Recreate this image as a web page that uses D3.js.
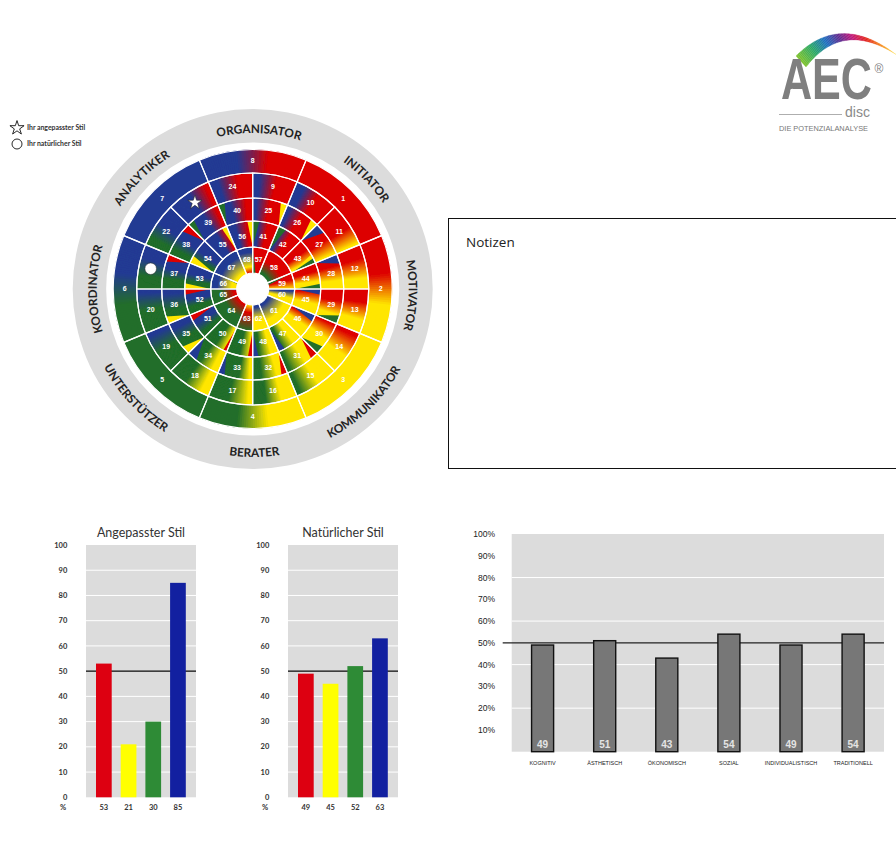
<!DOCTYPE html>
<html>
<head>
<meta charset="utf-8">
<script src="https://cdn.jsdelivr.net/npm/d3@7"></script>
<style>
  body { margin: 0; background: #fff; }
  svg { display: block; }
  text { font-family: Lato, sans-serif; }
</style>
</head>
<body>
<div id="chart"></div>
<script>
// Bar charts
const styleColors = ["#dd0011", "#ffff00", "#2e8b36", "#1220a0"];
const adaptedTitle = "Angepasster Stil";
const adaptedValues = [53, 21, 30, 85];
const naturalTitle = "Natürlicher Stil";
const naturalValues = [49, 45, 52, 63];
const styleTicks = [0, 10, 20, 30, 40, 50, 60, 70, 80, 90, 100];

const motiveNames = ["KOGNITIV", "ÄSTHETISCH", "ÖKONOMISCH", "SOZIAL", "INDIVIDUALISTISCH", "TRADITIONELL"];
const motiveValues = [49, 51, 43, 54, 49, 54];
const motiveTicks = [10, 20, 30, 40, 50, 60, 70, 80, 90, 100];
const motiveGrid = [20, 40, 60, 80];

// Wheel
const roleNames = ["ORGANISATOR", "INITIATOR", "MOTIVATOR", "KOMMUNIKATOR", "BERATER", "UNTERSTÜTZER", "KOORDINATOR", "ANALYTIKER"];
const palette = { R: "#dd0000", Y: "#ffe600", G: "#216e2a", B: "#233a93" };

// ids of each ring in clockwise order, spans in sixteenths of the circle
const ringIds = [
  [8, 1, 2, 3, 4, 5, 6, 7],
  d3.range(9, 25),
  d3.range(25, 41),
  d3.range(41, 57),
  d3.range(57, 69),
];
const ringSpans = [
  [2, 2, 2, 2, 2, 2, 2, 2],
  d3.range(16).map(() => 1),
  d3.range(16).map(() => 1),
  d3.range(16).map(() => 1),
  [1, 2, 1, 1, 2, 1, 1, 2, 1, 1, 2, 1],
];
const ringStart = [-1, 0, 0, 0, 0];

// colour, share of the segment (clockwise), colour, share ...
const sweepFills = [
  [1, "R"], [2, "R", .35, "Y", .65], [3, "Y"], [4, "Y", .35, "G", .65],
  [5, "G"], [6, "G", .35, "B", .65], [7, "B"], [8, "B", .35, "R", .65],
  [9, "B", .15, "R", .55], [10, "B", .2, "R", .55], [11, "R", .55, "Y", .95], [12, "R", .3, "Y", .75],
  [13, "R", .3, "Y", .7], [14, "R", .1, "Y", .6], [15, "Y", .45, "G", .9], [16, "Y", .35, "G", .7],
  [17, "Y", .1, "G", .55], [18, "Y", .2, "G", .6], [19, "G", .5, "B", .9], [20, "G", .5, "B", .9],
  [21, "G", .3, "B", .7], [22, "G", .2, "B", .55], [23, "B", .5, "R", .9], [24, "B", .2, "R", .65],
  [25, "B", .1, "R", .5], [26, "B", .1, "R", .5], [27, "R", .5, "Y", .95], [28, "R", .3, "Y", .75],
  [29, "R", .35, "Y", .75], [30, "R", .05, "Y", .5], [31, "Y", .4, "G", .9], [32, "Y", .3, "G", .75],
  [33, "Y", .1, "G", .4], [34, "Y", .2, "G", .6], [35, "G", .4, "B", .8], [36, "G", .35, "B", .85],
  [37, "G", .3, "B", .6], [38, "G", .2, "B", .55], [39, "B", .5, "R", .9], [40, "B", .35, "R", .8],
  [41, "B", .2, "R", .6], [42, "B", .15, "R", .55], [43, "R", .4, "Y", .85], [44, "R", .3, "Y", .7],
  [45, "R", .1, "Y", .6], [46, "R", .1, "Y", .55], [47, "Y", .35, "G", .8], [48, "Y", .3, "G", .75],
  [49, "Y", .1, "G", .5], [50, "Y", .1, "G", .5], [51, "G", .2, "B", .6], [52, "G", .3, "B", .6],
  [53, "G", .3, "B", .6], [54, "G", .2, "B", .55], [55, "B", .5, "R", .9], [56, "B", .3, "R", .8],
  [57, "R"], [59, "R", .4, "Y", 1], [60, "B", .15, "Y", .6],
];

// inner ring: colour, share of the ring width (centre to edge), colour ...
const radialFills = [
  [58, "G", .1, "R", .55], [61, "B", .1, "Y", .7], [62, "B", .1, "Y", .55], [63, "Y", 0, "R", .3, "G", 1],
  [64, "R", .05, "G", .55], [65, "R", .1, "G", .6], [66, "Y", .2, "B", .75], [67, "Y", .1, "B", .7],
  [68, "R", 0, "Y", .25, "B", .8],
];

// segment, side it leans on, colour, share of the segment at its widest
const wedges = [
  [25, "end", "Y", .2], [26, "end", "Y", .22], [27, "start", "B", .3], [28, "start", "B", .28],
  [29, "end", "G", .25], [30, "end", "G", .25], [31, "start", "R", .22], [32, "start", "R", .18],
  [33, "end", "B", .2], [34, "end", "B", .3], [35, "start", "Y", .25], [36, "start", "Y", .22],
  [37, "end", "R", .22], [38, "end", "R", .25], [39, "start", "G", .2], [40, "start", "G", .2],
  [41, "start", "G", .25], [42, "start", "G", .3], [43, "end", "Y", .35], [43, "end", "G", .2],
  [44, "end", "G", .2], [45, "start", "B", .22], [46, "start", "B", .28], [47, "end", "B", .25],
  [48, "end", "B", .22], [49, "start", "R", .18], [50, "start", "R", .14], [51, "end", "R", .25],
  [52, "end", "R", .22], [53, "start", "Y", .22], [54, "start", "Y", .3], [55, "end", "Y", .2],
  [56, "end", "Y", .2],
];

// thin at the outer edge instead of the inner one
const innerWedges = [
  [57, "start", "G", .45], [59, "start", "G", .4], [65, "end", "B", .2], [66, "end", "G", .2],
];

const starSegment = 23;
const circleSegment = 21;

const logoColors = ["#7dc22e", "#2aa866", "#1b6fc0", "#5a2d91", "#c0187a", "#e3241b", "#f58a1f", "#fde64b"];

const width = 896;
const height = 857;

const svg = d3.select("#chart")
  .append("svg")
  .attr("width", width)
  .attr("height", height);

const defs = svg.append("defs");
defs.append("filter")
  .attr("id", "soft")
  .append("feGaussianBlur")
  .attr("stdDeviation", .5);

// ---- wheel ----
const wheel = svg.append("g").attr("transform", "translate(252.7,289)");

const ringInner = [116, 91, 68, 42, 16];
const ringOuter = [139.5, 116, 91, 68, 42];
const labelRadius = [128, 104, 80, 54, 30];
const angle = d3.scaleLinear().domain([0, 16]).range([0, 2 * Math.PI]);
const arc = d3.arc();

const segments = [];
ringIds.forEach((ids, ring) => {
  let pos = ringStart[ring];
  ids.forEach((id, i) => {
    const span = ringSpans[ring][i];
    segments.push({
      id, ring,
      innerRadius: ringInner[ring],
      outerRadius: ringOuter[ring],
      startAngle: angle(pos),
      endAngle: angle(pos + span),
      midAngle: angle(pos + span / 2),
      labelRadius: labelRadius[ring],
    });
    pos += span;
  });
});
const segmentById = new Map(segments.map(d => [d.id, d]));

// gray band with the role names
wheel.append("path")
  .attr("d", arc({ innerRadius: 146.5, outerRadius: 180, startAngle: 0, endAngle: 2 * Math.PI }))
  .attr("fill", "#dcdcdc");

function stopScale(fill) {
  const rest = fill.slice(1);
  const cols = rest.filter((d, i) => i % 2 === 0).map(c => palette[c]);
  const pos = rest.filter((d, i) => i % 2 === 1);
  return d3.scaleLinear().domain(pos).range(cols).clamp(true);
}

// sweep gradients are stacks of thin arcs so the colour follows the angle,
// each one runs a bit under the next to hide the seams
const sliceCount = 48;
const colorLayer = wheel.append("g").attr("filter", "url(#soft)");
sweepFills.forEach(fill => {
  const seg = segmentById.get(fill[0]);
  if (fill.length === 2) {
    colorLayer.append("path").attr("d", arc(seg)).attr("fill", palette[fill[1]]);
    return;
  }
  const color = stopScale(fill);
  const sliceAngle = d3.scaleLinear().domain([0, sliceCount]).range([seg.startAngle, seg.endAngle]);
  colorLayer.append("g")
    .selectAll("path")
    .data(d3.range(sliceCount))
    .enter()
    .append("path")
    .attr("d", i => arc({
      innerRadius: seg.innerRadius,
      outerRadius: seg.outerRadius,
      startAngle: sliceAngle(i),
      endAngle: sliceAngle(Math.min(i + 3, sliceCount)),
    }))
    .attr("fill", i => color((i + .5) / sliceCount));
});

// radial gradients for the ring around the hole
radialFills.forEach(fill => {
  const seg = segmentById.get(fill[0]);
  const grad = defs.append("radialGradient")
    .attr("id", "radial-" + seg.id)
    .attr("gradientUnits", "userSpaceOnUse")
    .attr("cx", 0).attr("cy", 0).attr("r", seg.outerRadius);
  const share = d3.scaleLinear().domain([0, 1]).range([seg.innerRadius / seg.outerRadius, 1]);
  for (let i = 1; i < fill.length; i += 2) {
    grad.append("stop")
      .attr("offset", share(fill[i + 1]))
      .attr("stop-color", palette[fill[i]]);
  }
  colorLayer.append("path")
    .attr("d", arc(seg))
    .attr("fill", `url(#radial-${seg.id})`);
});

// triangular accents next to the spokes
const radialLine = d3.lineRadial();
function wedgePoints(w, flip) {
  const seg = segmentById.get(w[0]);
  const edge = w[1] === "start" ? seg.startAngle : seg.endAngle;
  const dir = w[1] === "start" ? 1 : -1;
  const open = edge + dir * w[3] * (seg.endAngle - seg.startAngle);
  const thin = flip ? seg.outerRadius : seg.innerRadius;
  const wide = flip ? seg.innerRadius : seg.outerRadius;
  return [[edge, thin], [edge, wide], [open, wide]];
}
colorLayer.append("g")
  .selectAll("path")
  .data(wedges)
  .enter()
  .append("path")
  .attr("d", d => radialLine(wedgePoints(d, false)) + "Z")
  .attr("fill", d => palette[d[2]]);
colorLayer.append("g")
  .selectAll("path")
  .data(innerWedges)
  .enter()
  .append("path")
  .attr("d", d => radialLine(wedgePoints(d, true)) + "Z")
  .attr("fill", d => palette[d[2]]);

// white grid on top
wheel.append("g")
  .selectAll("path")
  .data(segments)
  .enter()
  .append("path")
  .attr("d", d => arc(d))
  .attr("fill", "none")
  .attr("stroke", "#fff")
  .attr("stroke-width", 1.2);

wheel.append("g")
  .selectAll("text")
  .data(segments.filter(d => d.id !== starSegment && d.id !== circleSegment))
  .enter()
  .append("text")
  .attr("x", d => d.labelRadius * Math.sin(d.midAngle))
  .attr("y", d => -d.labelRadius * Math.cos(d.midAngle))
  .attr("dy", "0.35em")
  .attr("text-anchor", "middle")
  .style("font-family", "'Liberation Sans'")
  .style("font-size", "7px")
  .style("font-weight", "bold")
  .style("fill", "#fff")
  .text(d => d.id);

// markers
const starSeg = segmentById.get(starSegment);
const circleSeg = segmentById.get(circleSegment);
wheel.append("path")
  .attr("d", d3.symbol(d3.symbolStar, 62)())
  .attr("transform", `translate(${starSeg.labelRadius * Math.sin(starSeg.midAngle)},${-starSeg.labelRadius * Math.cos(starSeg.midAngle)})`)
  .attr("fill", "#fff")
  .attr("stroke", "#222")
  .attr("stroke-width", .6);
wheel.append("circle")
  .attr("cx", circleSeg.labelRadius * Math.sin(circleSeg.midAngle))
  .attr("cy", -circleSeg.labelRadius * Math.cos(circleSeg.midAngle))
  .attr("r", 5.8)
  .attr("fill", "#fff")
  .attr("stroke", "#222")
  .attr("stroke-width", .5);

// role names follow the band, the lower ones run the other way round
// the names are not quite centred on their sector in the original
const roleNudge = [2.3, 1, 2.3, .5, -.6, 2, 0, 0];
const roleAngle = d3.scaleLinear().domain([0, 8]).range([0, 2 * Math.PI]);
roleNames.forEach((name, i) => {
  const a = roleAngle(i) - Math.PI / 2 + roleNudge[i] * Math.PI / 180;
  const lower = i >= 3 && i <= 5;
  const r = lower ? 168 : 156;
  const path = d3.path();
  if (lower) path.arc(0, 0, r, a + .9, a - .9, true);
  else path.arc(0, 0, r, a - .9, a + .9, false);
  wheel.append("path")
    .attr("id", "role-" + i)
    .attr("d", path.toString())
    .attr("fill", "none");
  wheel.append("text")
    .style("font-size", "11.8px")
    .style("font-weight", "bold")
    .style("fill", "#222")
    .append("textPath")
    .attr("href", "#role-" + i)
    .attr("startOffset", "50%")
    .attr("text-anchor", "middle")
    .text(name);
});

// ---- legend ----
svg.append("path")
  .attr("d", d3.symbol(d3.symbolStar, 62)())
  .attr("transform", "translate(17,128)")
  .attr("fill", "#fff")
  .attr("stroke", "#111")
  .attr("stroke-width", .9);
svg.append("circle")
  .attr("cx", 17).attr("cy", 144).attr("r", 5)
  .attr("fill", "#fff")
  .attr("stroke", "#111")
  .attr("stroke-width", .9);
svg.selectAll(".legend-text")
  .data(["Ihr angepasster Stil", "Ihr natürlicher Stil"])
  .enter()
  .append("text")
  .attr("class", "legend-text")
  .attr("x", 27)
  .attr("y", (d, i) => 128 + i * 16)
  .attr("dy", "0.35em")
  .style("font-size", "6.9px")
  .style("font-weight", "bold")
  .style("fill", "#333")
  .text(d => d);

// ---- notes box ----
svg.append("rect")
  .attr("x", 448.5).attr("y", 218.5)
  .attr("width", 460).attr("height", 250)
  .attr("fill", "#fff")
  .attr("stroke", "#111")
  .attr("stroke-width", 1);
svg.append("text")
  .attr("x", 466).attr("y", 247)
  .style("font-family", "'Open Sans'")
  .style("font-size", "13.5px")
  .style("fill", "#222")
  .text("Notizen");

// ---- style bars ----
function styleChart(left, title, values) {
  const g = svg.append("g").attr("transform", `translate(${left},0)`);
  const plotWidth = 110;
  const y = d3.scaleLinear().domain([0, 100]).range([797.3, 545]);
  const x = d3.scaleBand().domain(d3.range(values.length)).range([10, 99.8]).paddingInner(.364).paddingOuter(0);

  g.append("rect")
    .attr("x", 0).attr("y", y(100))
    .attr("width", plotWidth).attr("height", y(0) - y(100))
    .attr("fill", "#dcdcdc");

  g.append("g")
    .selectAll("line")
    .data(styleTicks.slice(1, -1))
    .enter()
    .append("line")
    .attr("x1", 0).attr("x2", plotWidth)
    .attr("y1", d => y(d)).attr("y2", d => y(d))
    .attr("stroke", "#fff")
    .attr("stroke-width", 1);

  g.append("line")
    .attr("x1", 0).attr("x2", plotWidth)
    .attr("y1", y(50)).attr("y2", y(50))
    .attr("stroke", "#000")
    .attr("stroke-width", 1.2);

  g.append("g")
    .selectAll("rect")
    .data(values)
    .enter()
    .append("rect")
    .attr("x", (d, i) => x(i))
    .attr("y", d => y(d))
    .attr("width", x.bandwidth())
    .attr("height", d => y(0) - y(d))
    .attr("fill", (d, i) => styleColors[i]);

  g.append("g")
    .selectAll("text")
    .data(styleTicks)
    .enter()
    .append("text")
    .attr("x", -18.7)
    .attr("y", d => y(d))
    .attr("dy", "0.35em")
    .attr("text-anchor", "end")
    .style("font-size", "7.5px")
    .style("font-weight", "bold")
    .style("fill", "#333")
    .text(d => d);

  g.append("text")
    .attr("x", -23).attr("y", 807)
    .attr("dy", "0.35em")
    .attr("text-anchor", "middle")
    .style("font-size", "7.5px")
    .style("font-weight", "bold")
    .style("fill", "#333")
    .text("%");

  g.append("g")
    .selectAll("text")
    .data(values)
    .enter()
    .append("text")
    .attr("x", (d, i) => x(i) + x.bandwidth() / 2)
    .attr("y", 807)
    .attr("dy", "0.35em")
    .attr("text-anchor", "middle")
    .style("font-size", "7.5px")
    .style("font-weight", "bold")
    .style("fill", "#333")
    .text(d => d);

  g.append("text")
    .attr("x", 55).attr("y", 532.5)
    .attr("dy", "0.35em")
    .attr("text-anchor", "middle")
    .style("font-size", "12.5px")
    .style("fill", "#333")
    .text(title);
}
styleChart(86, adaptedTitle, adaptedValues);
styleChart(288, naturalTitle, naturalValues);

// ---- motive bars ----
const motive = svg.append("g");
const my = d3.scaleLinear().domain([0, 100]).range([751.7, 534]);
const mx = d3.scaleBand().domain(motiveNames).range([511.7, 884]).padding(.645).paddingOuter(.32);

motive.append("rect")
  .attr("x", 511.7).attr("y", my(100))
  .attr("width", 372.3).attr("height", my(0) - my(100))
  .attr("fill", "#dcdcdc");

motive.append("g")
  .selectAll("line")
  .data(motiveGrid)
  .enter()
  .append("line")
  .attr("x1", 511.7).attr("x2", 884)
  .attr("y1", d => my(d)).attr("y2", d => my(d))
  .attr("stroke", "#fff")
  .attr("stroke-width", 1);

motive.append("line")
  .attr("x1", 502.7).attr("x2", 884)
  .attr("y1", my(50)).attr("y2", my(50))
  .attr("stroke", "#222")
  .attr("stroke-width", 1.2);

motive.append("g")
  .selectAll("rect")
  .data(motiveValues)
  .enter()
  .append("rect")
  .attr("x", (d, i) => mx(motiveNames[i]))
  .attr("y", d => my(d))
  .attr("width", mx.bandwidth())
  .attr("height", d => my(0) - my(d))
  .attr("fill", "#777")
  .attr("stroke", "#111")
  .attr("stroke-width", 1.4);

motive.append("g")
  .selectAll("text")
  .data(motiveValues)
  .enter()
  .append("text")
  .attr("x", (d, i) => mx(motiveNames[i]) + mx.bandwidth() / 2)
  .attr("y", 744.7)
  .attr("dy", "0.35em")
  .attr("text-anchor", "middle")
  .style("font-family", "'Liberation Sans'")
  .style("font-size", "10px")
  .style("font-weight", "bold")
  .style("fill", "#e4e4e4")
  .text(d => d);

motive.append("g")
  .selectAll("text")
  .data(motiveTicks)
  .enter()
  .append("text")
  .attr("x", 495)
  .attr("y", d => my(d))
  .attr("dy", "0.35em")
  .attr("text-anchor", "end")
  .style("font-family", "'Liberation Sans'")
  .style("font-size", "8.5px")
  .style("fill", "#222")
  .text(d => d + "%");

motive.append("g")
  .selectAll("text")
  .data(motiveNames)
  .enter()
  .append("text")
  .attr("x", d => mx(d) + mx.bandwidth() / 2)
  .attr("y", 763.3)
  .attr("dy", "0.35em")
  .attr("text-anchor", "middle")
  .style("font-family", "'Liberation Sans'")
  .style("font-size", "5.5px")
  .style("fill", "#222")
  .text(d => d);

// ---- logo ----
const logo = svg.append("g");
const bezier = (a, b, c, t) => (1 - t) * (1 - t) * a + 2 * (1 - t) * t * b + t * t * c;
const logoColor = d3.scaleLinear()
  .domain(logoColors.map((d, i) => i / (logoColors.length - 1)))
  .range(logoColors);
const logoSteps = 70;
logo.append("g")
  .selectAll("path")
  .data(d3.range(logoSteps))
  .enter()
  .append("path")
  .attr("d", i => {
    const pts = [i / logoSteps, (i + 1) / logoSteps];
    const outer = pts.map(t => [bezier(796, 840, 896, t), bezier(56, 12, 54.5, t)]);
    const inner = pts.map(t => [bezier(806, 842, 896, t), bezier(67, 20, 54.5, t)]);
    return d3.line()([outer[0], outer[1], inner[1], inner[0]]) + "Z";
  })
  .attr("fill", i => logoColor(i / logoSteps))
  .attr("stroke", i => logoColor(i / logoSteps))
  .attr("stroke-width", .3);

// squeeze the letters to the logo's width whatever the font measures
const logoText = logo.append("text")
  .style("font-family", "'Liberation Sans'")
  .style("font-size", "58px")
  .style("font-weight", "bold")
  .style("fill", "#7f7f7f")
  .text("AEC");
logoText.attr("transform", `translate(781,99) scale(${91 / logoText.node().getComputedTextLength()},1)`);
logo.append("circle")
  .attr("cx", 792.3).attr("cy", 90.7).attr("r", 2)
  .attr("fill", "#fff");
logo.append("text")
  .attr("x", 879).attr("y", 69)
  .attr("dy", "0.35em")
  .attr("text-anchor", "middle")
  .style("font-family", "'Liberation Sans'")
  .style("font-size", "12px")
  .style("fill", "#7f7f7f")
  .text("®");
logo.append("line")
  .attr("x1", 779).attr("x2", 842)
  .attr("y1", 114.5).attr("y2", 114.5)
  .attr("stroke", "#999")
  .attr("stroke-width", .8);
logo.append("text")
  .attr("x", 845).attr("y", 116.5)
  .style("font-family", "'Liberation Sans'")
  .style("font-size", "14px")
  .style("fill", "#8a8a8a")
  .text("disc");
logo.append("text")
  .attr("x", 779).attr("y", 128)
  .attr("dy", "0.35em")
  .style("font-family", "'Liberation Sans'")
  .style("font-size", "7.4px")
  .style("fill", "#777")
  .text("DIE POTENZIALANALYSE");
</script>
</body>
</html>
